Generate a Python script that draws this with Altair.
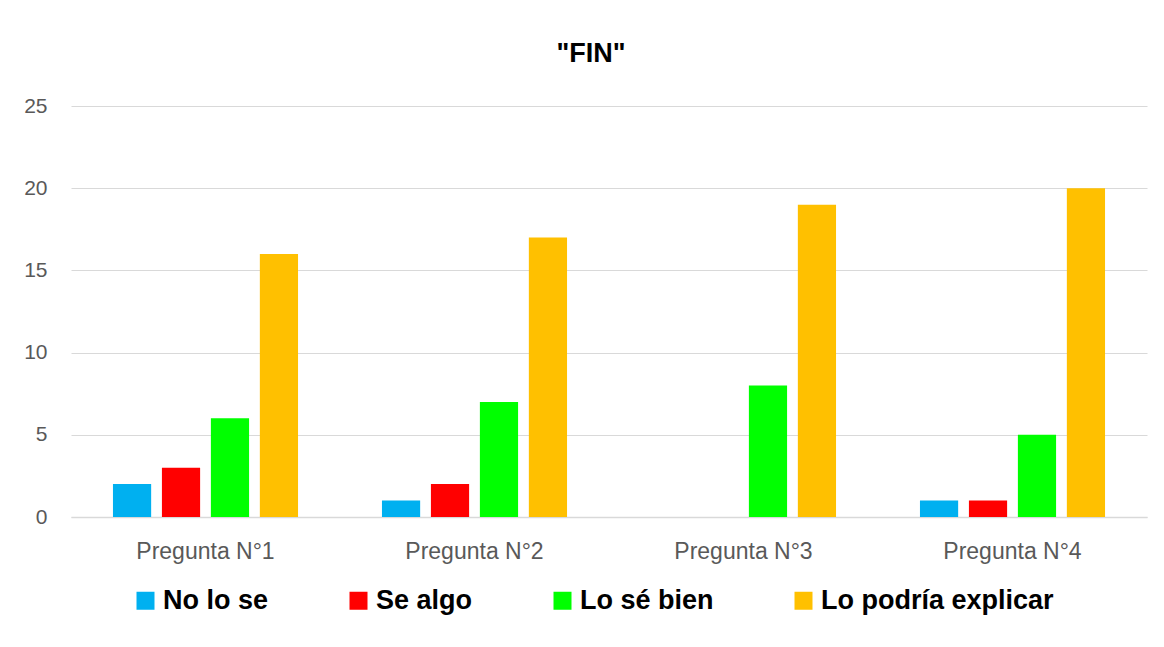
import altair as alt
import pandas as pd

preguntas = ["Pregunta N°1", "Pregunta N°2", "Pregunta N°3", "Pregunta N°4"]
series = ["No lo se", "Se algo", "Lo sé bien", "Lo podría explicar"]
no_lo_se = [2, 1, 0, 1]
se_algo = [3, 2, 0, 1]
lo_se_bien = [6, 7, 8, 5]
lo_podria = [16, 17, 19, 20]
colors = ["#00B0F0", "#FF0000", "#00FF00", "#FFC000"]
y_ticks = [0, 5, 10, 15, 20, 25]

rows = []
for s, vals in zip(series, [no_lo_se, se_algo, lo_se_bien, lo_podria]):
    for p, v in zip(preguntas, vals):
        rows.append({"Pregunta": p, "Serie": s, "Valor": v})
df = pd.DataFrame(rows)

FONT = "Liberation Sans"

chart = alt.Chart(df).mark_bar().encode(
    x=alt.X("Pregunta:N", sort=preguntas,
            scale=alt.Scale(paddingInner=0.312, paddingOuter=0.156),
            axis=alt.Axis(title=None, labelAngle=0, labelFontSize=23, labelColor="#595959",
                          labelPadding=23, ticks=False, domainColor="#D9D9D9", domainWidth=1.5,
                          grid=False, labelFont=FONT)),
    xOffset=alt.XOffset("Serie:N", sort=series, scale=alt.Scale(paddingInner=0.22, paddingOuter=0)),
    y=alt.Y("Valor:Q", scale=alt.Scale(domain=[0, 25]),
            axis=alt.Axis(values=y_ticks, title=None, labelFontSize=21, labelColor="#595959",
                          labelPadding=24, ticks=False, domain=False, gridColor="#D9D9D9",
                          labelFont=FONT)),
    color=alt.Color("Serie:N", sort=series,
                    scale=alt.Scale(domain=series, range=colors),
                    legend=alt.Legend(title=None, orient="none", legendX=61, legendY=481,
                                      direction="horizontal", symbolType="square", symbolSize=324,
                                      symbolStrokeWidth=0, symbolOpacity=1, labelFontSize=27,
                                      labelFontWeight="bold", labelColor="black", labelFont=FONT,
                                      columnPadding=76, labelOffset=4, labelLimit=400)),
).properties(
    width=1076,
    height=411,
    title=alt.TitleParams('"FIN"', fontSize=27, fontWeight="bold", font=FONT, color="black",
                          anchor="middle", offset=27, dx=-18),
    autosize=alt.AutoSizeParams(type="none"),
    padding={"left": 63, "top": 98, "right": 5, "bottom": 115},
).configure_view(stroke=None)

chart.save("out.html", embed_options={"renderer": "svg", "actions": False})
